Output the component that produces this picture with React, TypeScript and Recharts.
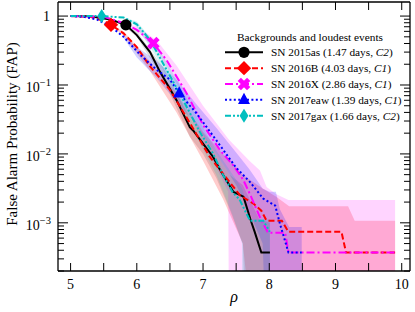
import React from 'react';
import { ComposedChart, Line, Area, XAxis, YAxis } from 'recharts';

const FONT = "'Liberation Serif', 'DejaVu Serif', serif";

// ---------- line data (rho, FAP) ----------
const rho2015as = [5.0, 5.3, 5.6, 5.835, 6.0, 6.2, 6.35, 6.6, 6.8, 6.85, 7.0, 7.15, 7.26, 7.46, 7.61, 7.73, 7.78, 7.88, 8.01];
const fap2015as = [1.0, 0.99, 0.89, 0.746, 0.53, 0.3, 0.155, 0.0603, 0.0245, 0.0219, 0.0141, 0.0091, 0.0058, 0.0028, 0.0024, 0.00102, 0.00074, 0.00037, 0.00037];

const rho2016B = [5.0, 5.3, 5.5, 5.61, 5.8, 6.0, 6.2, 6.5, 6.8, 7.1, 7.26, 7.56, 7.76, 7.88, 7.96, 8.19, 8.29, 9.09, 9.16, 9.9];
const fap2016B = [1.0, 0.977, 0.851, 0.746, 0.562, 0.355, 0.186, 0.0851, 0.0282, 0.0091, 0.0058, 0.0025, 0.0019, 0.0015, 0.00107, 0.00107, 0.00074, 0.00074, 0.00037, 0.00037];

const rho2016X = [5.0, 5.5, 5.8, 6.0, 6.25, 6.45, 6.74, 7.0, 7.26, 7.46, 7.61, 7.73, 7.86, 7.98, 8.24, 8.29, 9.9];
const fap2016X = [1.0, 0.977, 0.794, 0.631, 0.405, 0.229, 0.0794, 0.0263, 0.0112, 0.00676, 0.00417, 0.00234, 0.0012, 0.00072, 0.00072, 0.00037, 0.00037];

const rho2017eaw = [5.0, 5.2, 5.4, 5.6, 5.8, 6.05, 6.3, 6.5, 6.64, 6.9, 7.2, 7.5, 7.71, 7.91, 8.09, 8.16, 8.29, 8.49];
const fap2017eaw = [1.0, 0.977, 0.891, 0.708, 0.501, 0.275, 0.166, 0.12, 0.0759, 0.0389, 0.0158, 0.0063, 0.0039, 0.00224, 0.00178, 0.00098, 0.00037, 0.00037];

const rho2017gax = [5.0, 5.47, 5.8, 6.0, 6.2, 6.45, 6.7, 6.95, 7.15, 7.3, 7.45, 7.55, 7.71, 7.91, 8.01];
const fap2017gax = [1.0, 1.0, 0.955, 0.759, 0.452, 0.166, 0.0603, 0.0209, 0.0102, 0.005, 0.00275, 0.00219, 0.00107, 0.00107, 0.00074];

// loudest-event marker index within each line
const markerIndex = [3, 3, 4, 8, 1];

// ---------- background bands (rho, upper, lower) ----------
const bandRho2015as = [5.8, 6.0, 6.4, 6.8, 7.0, 7.2, 7.4, 7.6, 7.7, 7.85, 8.01];
const bandHi2015as = [0.74, 0.603, 0.178, 0.0331, 0.02, 0.01, 0.005, 0.00355, 0.00224, 0.00112, 0.001];
const bandLo2015as = [0.72, 0.501, 0.12, 0.0178, 0.01, 0.00447, 0.00158, 0.0005, 0.000001, 0.000001, 0.000001];

const bandRho2016B = [5.6, 5.8, 6.2, 6.6, 7.0, 7.3, 7.6, 7.9, 8.1, 8.3, 9.19, 9.29, 9.9];
const bandHi2016B = [0.76, 0.603, 0.219, 0.0759, 0.0209, 0.01, 0.005, 0.00316, 0.0024, 0.00174, 0.00174, 0.00107, 0.00107];
const bandLo2016B = [0.73, 0.525, 0.158, 0.0398, 0.00794, 0.00224, 0.0005, 0.000001, 0.000001, 0.000001, 0.000001, 0.000001, 0.000001];

const bandRho2016X = [5.8, 6.0, 6.3, 6.6, 7.0, 7.2, 7.38, 7.4, 7.7, 7.86, 7.96, 8.1, 8.29, 9.9];
const bandHi2016X = [0.8, 0.708, 0.447, 0.191, 0.0501, 0.0282, 0.0166, 0.0158, 0.00794, 0.00575, 0.00331, 0.00263, 0.00214, 0.00214];
const bandLo2016X = [0.78, 0.603, 0.316, 0.105, 0.0141, 0.0063, 0.00282, 0.000001, 0.000001, 0.000001, 0.000001, 0.000001, 0.000001, 0.000001];

const bandRho2017eaw = [5.8, 6.0, 6.3, 6.6, 6.9, 7.2, 7.5, 7.7, 7.9, 8.0, 8.1, 8.16, 8.3, 8.49];
const bandHi2017eaw = [0.52, 0.355, 0.224, 0.12, 0.0525, 0.024, 0.0105, 0.006, 0.00316, 0.00282, 0.00282, 0.00158, 0.00087, 0.00087];
const bandLo2017eaw = [0.48, 0.251, 0.126, 0.0562, 0.0263, 0.01, 0.00355, 0.00141, 0.0005, 0.000001, 0.000001, 0.000001, 0.000001, 0.000001];

const bandRho2017gax = [5.8, 6.0, 6.3, 6.6, 6.9, 7.2, 7.45, 7.59, 7.6, 7.7, 8.01];
const bandHi2017gax = [0.96, 0.832, 0.38, 0.12, 0.0355, 0.0112, 0.005, 0.00316, 0.00302, 0.00112, 0.00112];
const bandLo2017gax = [0.95, 0.692, 0.251, 0.0708, 0.0178, 0.005, 0.00126, 0.0005, 0.000001, 0.000001, 0.000001];

// ---------- legend text ----------
const legendTitle = 'Backgrounds and loudest events';
const eventNames = ['SN 2015as', 'SN 2016B', 'SN 2016X', 'SN 2017eaw', 'SN 2017gax'];
const eventDays = ['1.47', '4.03', '2.86', '1.39', '1.66'];
const eventClasses = ['C2', 'C1', 'C1', 'C1', 'C2'];

// ---------- ticks ----------
const xTicks = [5, 5.5, 6, 6.5, 7, 7.5, 8, 8.5, 9, 9.5, 10];
const yMajorTicks = [0.001, 0.01, 0.1, 1];
const yMinorTicks = [
  0.0002, 0.0003, 0.0004, 0.0005, 0.0006, 0.0007, 0.0008, 0.0009,
  0.002, 0.003, 0.004, 0.005, 0.006, 0.007, 0.008, 0.009,
  0.02, 0.03, 0.04, 0.05, 0.06, 0.07, 0.08, 0.09,
  0.2, 0.3, 0.4, 0.5, 0.6, 0.7, 0.8, 0.9,
];
const yTicks = [...yMajorTicks, ...yMinorTicks].sort((a, b) => a - b);

// ---------- styles ----------
const styles = [
  { color: '#000000', dash: undefined as string | undefined, marker: 'circle', bandOpacity: 0.13 },
  { color: '#ff0000', dash: '6 3', marker: 'diamond', bandOpacity: 0.2 },
  { color: '#ff00ff', dash: '8 3 2 3', marker: 'x', bandOpacity: 0.17 },
  { color: '#0000ff', dash: '2 2.4', marker: 'triangle', bandOpacity: 0.18 },
  { color: '#00bfbf', dash: '6 2 2 2 2 2', marker: 'thindiamond', bandOpacity: 0.18 },
];

const lines = [
  [rho2015as, fap2015as],
  [rho2016B, fap2016B],
  [rho2016X, fap2016X],
  [rho2017eaw, fap2017eaw],
  [rho2017gax, fap2017gax],
].map(([r, f]) => r.map((x, i) => ({ x, y: f[i] })));

const bands = [
  [bandRho2015as, bandHi2015as, bandLo2015as],
  [bandRho2016B, bandHi2016B, bandLo2016B],
  [bandRho2016X, bandHi2016X, bandLo2016X],
  [bandRho2017eaw, bandHi2017eaw, bandLo2017eaw],
  [bandRho2017gax, bandHi2017gax, bandLo2017gax],
].map(([r, h, l]) => r.map((x, i) => ({ x, hi: h[i], lo: l[i] })));

function Marker({ type, cx, cy, color }: { type: string; cx: number; cy: number; color: string }) {
  if (type === 'circle') return <circle cx={cx} cy={cy} r={5.6} fill={color} />;
  if (type === 'diamond')
    return <polygon points={`${cx},${cy - 7.2} ${cx + 7.2},${cy} ${cx},${cy + 7.2} ${cx - 7.2},${cy}`} fill={color} />;
  if (type === 'thindiamond')
    return <polygon points={`${cx},${cy - 7} ${cx + 4.4},${cy} ${cx},${cy + 7} ${cx - 4.4},${cy}`} fill={color} />;
  if (type === 'triangle')
    return <polygon points={`${cx},${cy - 7} ${cx + 6},${cy + 4.2} ${cx - 6},${cy + 4.2}`} fill={color} />;
  // filled X
  return (
    <g fill={color}>
      <rect x={cx - 6.6} y={cy - 2.3} width={13.2} height={4.6} transform={`rotate(45 ${cx} ${cy})`} />
      <rect x={cx - 6.6} y={cy - 2.3} width={13.2} height={4.6} transform={`rotate(-45 ${cx} ${cy})`} />
    </g>
  );
}

const isMajor = (v: number) => Math.abs(Math.log10(v) - Math.round(Math.log10(v))) < 1e-6;

const BottomTick = (props: any) => {
  const { x, y, payload } = props;
  const v = payload.value;
  const isInt = Math.abs(v - Math.round(v)) < 1e-6;
  return (
    <g>
      <line x1={x} x2={x} y1={y} y2={y - 8} stroke="#000" strokeWidth={1} />
      {isInt && (
        <text x={x} y={y + 17.5} textAnchor="middle" fontSize={14} fontFamily={FONT} fill="#000">
          {v}
        </text>
      )}
    </g>
  );
};

const TopTick = (props: any) => {
  const { x, y } = props;
  return <line x1={x} x2={x} y1={y} y2={y + 8} stroke="#000" strokeWidth={1} />;
};

const LeftTick = (props: any) => {
  const { x, y, payload } = props;
  const v = payload.value;
  const major = isMajor(v);
  const exp = Math.round(Math.log10(v));
  return (
    <g>
      <line x1={x} x2={x + (major ? 10 : 6)} y1={y} y2={y} stroke="#000" strokeWidth={1} />
      {major &&
        (exp === 0 ? (
          <text x={x - 8} y={y + 5} textAnchor="end" fontSize={14} fontFamily={FONT} fill="#000">
            1
          </text>
        ) : (
          <text x={x - 7} y={y + 7} textAnchor="end" fontSize={14} fontFamily={FONT} fill="#000">
            <tspan>10</tspan>
            <tspan dy={-6} fontSize={10.5}>{`\u2212${-exp}`}</tspan>
          </text>
        ))}
    </g>
  );
};

const RightTick = (props: any) => {
  const { x, y, payload } = props;
  const major = isMajor(payload.value);
  return <line x1={x} x2={x - (major ? 10 : 6)} y1={y} y2={y} stroke="#000" strokeWidth={1} />;
};

function LegendBox() {
  return (
    <g fontFamily={FONT} fontSize={11.3} fill="#000">
      <text x={310} y={40.5} textAnchor="middle">
        {legendTitle}
      </text>
      {eventNames.map((name, i) => {
        const s = styles[i];
        const cy = 52.3 + i * 15.85;
        return (
          <g key={name}>
            <line x1={225} x2={263} y1={cy} y2={cy} stroke={s.color} strokeWidth={2} strokeDasharray={s.dash} />
            <Marker type={s.marker} cx={244} cy={cy} color={s.color} />
            <text x={271} y={cy + 4}>
              {`${name} (${eventDays[i]} days, `}
              <tspan fontStyle="italic">{eventClasses[i]}</tspan>
              {')'}
            </text>
          </g>
        );
      })}
    </g>
  );
}

export default function App() {
  return (
    <div style={{ position: 'absolute', left: 0, top: 0, width: 415, height: 312, background: '#fff' }}>
      <ComposedChart width={415} height={312} margin={{ top: 0, right: 3, bottom: 11, left: 0 }}>
        <XAxis
          xAxisId="b"
          dataKey="x"
          type="number"
          domain={[4.81, 10.125]}
          allowDataOverflow
          ticks={xTicks}
          interval={0}
          tick={<BottomTick />}
          tickLine={false}
          tickSize={0}
          tickMargin={0}
          height={30}
          axisLine={{ stroke: '#000', strokeWidth: 1.3 }}
        />
        <XAxis
          xAxisId="t"
          orientation="top"
          dataKey="x"
          type="number"
          domain={[4.81, 10.125]}
          allowDataOverflow
          ticks={xTicks}
          interval={0}
          tick={<TopTick />}
          tickLine={false}
          tickSize={0}
          tickMargin={0}
          height={2}
          axisLine={{ stroke: '#000', strokeWidth: 1.3 }}
        />
        <YAxis
          yAxisId="l"
          dataKey="y"
          type="number"
          scale="log"
          domain={[0.0002, 1.6]}
          allowDataOverflow
          ticks={yTicks}
          interval={0}
          tick={<LeftTick />}
          tickLine={false}
          tickSize={0}
          tickMargin={0}
          width={58}
          axisLine={{ stroke: '#000', strokeWidth: 1.3 }}
        />
        <YAxis
          yAxisId="r"
          orientation="right"
          type="number"
          scale="log"
          domain={[0.0002, 1.6]}
          allowDataOverflow
          ticks={yTicks}
          interval={0}
          tick={<RightTick />}
          tickLine={false}
          tickSize={0}
          tickMargin={0}
          width={2}
          axisLine={{ stroke: '#000', strokeWidth: 1.3 }}
        />
        {bands.map((b, i) => (
          <Area
            key={`band${i}`}
            xAxisId="b"
            yAxisId="l"
            data={b}
            dataKey={(d: any) => [d.lo, d.hi]}
            type="linear"
            stroke="none"
            fill={styles[i].color}
            fillOpacity={styles[i].bandOpacity}
            isAnimationActive={false}
            activeDot={false}
            dot={false}
          />
        ))}
        {lines.map((l, i) => (
          <Line
            key={`line${i}`}
            xAxisId="b"
            yAxisId="l"
            data={l}
            dataKey="y"
            type="linear"
            stroke={styles[i].color}
            strokeWidth={2}
            strokeDasharray={styles[i].dash}
            isAnimationActive={false}
            activeDot={false}
            dot={(p: any) =>
              p.index === markerIndex[i] ? (
                <Marker key={`m${i}`} type={styles[i].marker} cx={p.cx} cy={p.cy} color={styles[i].color} />
              ) : (
                <g key={`d${i}-${p.index}`} />
              )
            }
          />
        ))}
        <LegendBox />
        <text
          x={14}
          y={134}
          transform="rotate(-90 14 134)"
          textAnchor="middle"
          dominantBaseline="middle"
          fontSize={15}
          fontFamily={FONT}
          fill="#000"
        >
          False Alarm Probability (FAP)
        </text>
        <text x={234} y={302} textAnchor="middle" fontSize={16} fontStyle="italic" fontFamily={FONT} fill="#000">
          ρ
        </text>
      </ComposedChart>
    </div>
  );
}
